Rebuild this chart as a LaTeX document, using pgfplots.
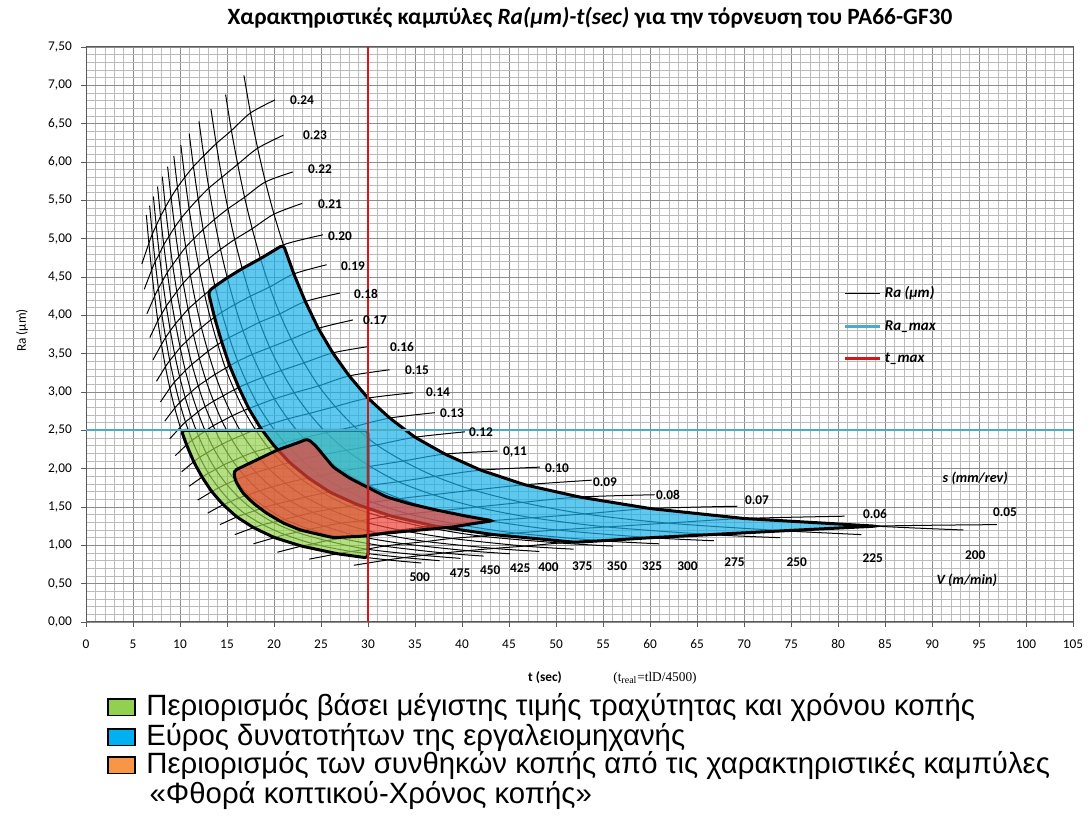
\documentclass[border=0pt]{standalone}
\usepackage{fontspec}
\setmainfont{Carlito}
\newfontfamily\arialf{Liberation Sans}
\newfontfamily\timesf{Liberation Serif}
\usepackage{pgfplots}
\pgfplotsset{compat=1.18}
\usepackage{pgfplotstable}

\definecolor{gridmajor}{HTML}{8C8C8C}
\definecolor{gridminor}{HTML}{BBBBBB}
\definecolor{ramax}{HTML}{4BACC6}
\definecolor{tmax}{HTML}{D01818}
\definecolor{fillgreen}{HTML}{94D14E}
\definecolor{fillblue}{HTML}{1BB0E8}
\definecolor{fillred}{HTML}{EE4236}
\definecolor{boxgreen}{HTML}{92D050}
\definecolor{boxblue}{HTML}{00B0F0}
\definecolor{boxorange}{HTML}{F79646}

% mesh points: 15 groups (ext, V=500..200, label leaders) x 22 rows (s=0.045, 0.05..0.24, 0.25)
\pgfplotstableread[row sep=\\]{
t r\\
31.67 0.70\\ 28.50 0.74\\ 23.75 0.82\\ 20.36 0.91\\ 17.81 1.02\\ 15.83 1.14\\ 14.25 1.27\\ 12.95 1.42\\ 11.88 1.59\\ 10.96 1.77\\ 10.18 1.96\\ 9.50 2.17\\ 8.91 2.39\\ 8.38 2.62\\ 7.92 2.87\\ 7.50 3.14\\ 7.13 3.42\\ 6.79 3.71\\ 6.48 4.02\\ 6.20 4.34\\ 5.94 4.67\\ 5.70 5.02\\
35.67 0.77\\ 32.10 0.81\\ 26.75 0.89\\ 22.93 0.99\\ 20.06 1.10\\ 17.83 1.23\\ 16.05 1.37\\ 14.59 1.53\\ 13.38 1.70\\ 12.35 1.89\\ 11.46 2.09\\ 10.70 2.31\\ 10.03 2.54\\ 9.44 2.79\\ 8.92 3.05\\ 8.45 3.33\\ 8.03 3.62\\ 7.64 3.93\\ 7.30 4.25\\ 6.98 4.59\\ 6.69 4.94\\ 6.42 5.31\\
37.62 0.80\\ 33.86 0.84\\ 28.22 0.92\\ 24.19 1.02\\ 21.16 1.14\\ 18.81 1.27\\ 16.93 1.41\\ 15.39 1.57\\ 14.11 1.75\\ 13.02 1.94\\ 12.09 2.15\\ 11.29 2.37\\ 10.58 2.61\\ 9.96 2.86\\ 9.41 3.13\\ 8.91 3.41\\ 8.47 3.71\\ 8.06 4.02\\ 7.70 4.35\\ 7.36 4.70\\ 7.05 5.06\\ 6.77 5.43\\
39.84 0.83\\ 35.86 0.87\\ 29.88 0.95\\ 25.61 1.06\\ 22.41 1.17\\ 19.92 1.30\\ 17.93 1.45\\ 16.30 1.62\\ 14.94 1.80\\ 13.79 1.99\\ 12.81 2.20\\ 11.95 2.43\\ 11.21 2.67\\ 10.55 2.93\\ 9.96 3.20\\ 9.44 3.49\\ 8.97 3.80\\ 8.54 4.12\\ 8.15 4.45\\ 7.80 4.80\\ 7.47 5.17\\ 7.17 5.55\\
42.29 0.86\\ 38.06 0.90\\ 31.72 0.99\\ 27.19 1.09\\ 23.79 1.21\\ 21.14 1.34\\ 19.03 1.50\\ 17.30 1.66\\ 15.86 1.85\\ 14.64 2.05\\ 13.59 2.26\\ 12.69 2.49\\ 11.89 2.74\\ 11.19 3.00\\ 10.57 3.28\\ 10.02 3.58\\ 9.52 3.89\\ 9.06 4.21\\ 8.65 4.56\\ 8.27 4.92\\ 7.93 5.29\\ 7.61 5.68\\
45.09 0.89\\ 40.58 0.93\\ 33.82 1.02\\ 28.99 1.12\\ 25.36 1.25\\ 22.54 1.38\\ 20.29 1.54\\ 18.45 1.71\\ 16.91 1.90\\ 15.61 2.10\\ 14.49 2.32\\ 13.53 2.56\\ 12.68 2.81\\ 11.94 3.08\\ 11.27 3.36\\ 10.68 3.66\\ 10.15 3.98\\ 9.66 4.31\\ 9.22 4.66\\ 8.82 5.03\\ 8.45 5.41\\ 8.12 5.81\\
48.24 0.92\\ 43.42 0.96\\ 36.18 1.05\\ 31.01 1.16\\ 27.14 1.29\\ 24.12 1.43\\ 21.71 1.58\\ 19.74 1.76\\ 18.09 1.95\\ 16.70 2.16\\ 15.51 2.38\\ 14.47 2.62\\ 13.57 2.88\\ 12.77 3.15\\ 12.06 3.44\\ 11.43 3.75\\ 10.86 4.08\\ 10.34 4.42\\ 9.87 4.77\\ 9.44 5.15\\ 9.05 5.54\\ 8.68 5.94\\
51.87 0.95\\ 46.68 0.99\\ 38.90 1.09\\ 33.34 1.20\\ 29.18 1.32\\ 25.93 1.47\\ 23.34 1.63\\ 21.22 1.81\\ 19.45 2.00\\ 17.95 2.22\\ 16.67 2.44\\ 15.56 2.69\\ 14.59 2.95\\ 13.73 3.23\\ 12.97 3.53\\ 12.28 3.84\\ 11.67 4.17\\ 11.11 4.52\\ 10.61 4.89\\ 10.15 5.27\\ 9.73 5.67\\ 9.34 6.08\\
56.07 0.99\\ 50.46 1.03\\ 42.05 1.12\\ 36.04 1.24\\ 31.54 1.37\\ 28.03 1.51\\ 25.23 1.68\\ 22.94 1.86\\ 21.03 2.06\\ 19.41 2.27\\ 18.02 2.51\\ 16.82 2.76\\ 15.77 3.03\\ 14.84 3.31\\ 14.02 3.62\\ 13.28 3.94\\ 12.62 4.27\\ 12.01 4.63\\ 11.47 5.00\\ 10.97 5.39\\ 10.51 5.80\\ 10.09 6.22\\
60.98 1.02\\ 54.88 1.06\\ 45.73 1.16\\ 39.20 1.28\\ 34.30 1.41\\ 30.49 1.56\\ 27.44 1.73\\ 24.95 1.91\\ 22.87 2.12\\ 21.11 2.34\\ 19.60 2.58\\ 18.29 2.83\\ 17.15 3.11\\ 16.14 3.40\\ 15.24 3.71\\ 14.44 4.04\\ 13.72 4.38\\ 13.07 4.74\\ 12.47 5.12\\ 11.93 5.52\\ 11.43 5.94\\ 10.98 6.37\\
66.80 1.06\\ 60.12 1.10\\ 50.10 1.20\\ 42.94 1.32\\ 37.58 1.45\\ 33.40 1.61\\ 30.06 1.78\\ 27.33 1.97\\ 25.05 2.18\\ 23.12 2.40\\ 21.47 2.65\\ 20.04 2.91\\ 18.79 3.19\\ 17.68 3.49\\ 16.70 3.80\\ 15.82 4.14\\ 15.03 4.49\\ 14.31 4.86\\ 13.66 5.25\\ 13.07 5.66\\ 12.53 6.08\\ 12.02 6.53\\
73.84 1.10\\ 66.46 1.14\\ 55.38 1.24\\ 47.47 1.36\\ 41.54 1.50\\ 36.92 1.66\\ 33.23 1.83\\ 30.21 2.03\\ 27.69 2.24\\ 25.56 2.47\\ 23.74 2.72\\ 22.15 2.99\\ 20.77 3.28\\ 19.55 3.58\\ 18.46 3.91\\ 17.49 4.25\\ 16.62 4.61\\ 15.82 4.99\\ 15.10 5.39\\ 14.45 5.80\\ 13.85 6.24\\ 13.29 6.69\\
82.49 1.14\\ 74.24 1.19\\ 61.87 1.29\\ 53.03 1.41\\ 46.40 1.56\\ 41.24 1.72\\ 37.12 1.90\\ 33.75 2.10\\ 30.93 2.31\\ 28.55 2.55\\ 26.51 2.81\\ 24.75 3.08\\ 23.20 3.38\\ 21.84 3.69\\ 20.62 4.02\\ 19.54 4.37\\ 18.56 4.74\\ 17.68 5.13\\ 16.87 5.54\\ 16.14 5.97\\ 15.47 6.41\\ 14.85 6.88\\
93.33 1.20\\ 84.00 1.25\\ 70.00 1.35\\ 60.00 1.48\\ 52.50 1.63\\ 46.67 1.79\\ 42.00 1.98\\ 38.18 2.19\\ 35.00 2.41\\ 32.31 2.66\\ 30.00 2.92\\ 28.00 3.21\\ 26.25 3.51\\ 24.71 3.83\\ 23.33 4.18\\ 22.11 4.54\\ 21.00 4.92\\ 20.00 5.32\\ 19.09 5.74\\ 18.26 6.18\\ 17.50 6.64\\ 16.80 7.13\\
96.90 1.27\\ 96.90 1.27\\ 80.70 1.38\\ 69.30 1.51\\ 60.50 1.66\\ 53.80 1.85\\ 48.30 2.02\\ 43.80 2.23\\ 40.30 2.48\\ 37.10 2.73\\ 34.80 2.99\\ 32.30 3.29\\ 29.90 3.59\\ 28.40 3.94\\ 27.00 4.29\\ 25.60 4.66\\ 25.20 5.05\\ 23.00 5.46\\ 22.00 5.87\\ 21.00 6.35\\ 20.10 6.81\\ 20.10 6.81\\
}\meshdata

\begin{document}
\begin{tikzpicture}
\useasboundingbox (-51.6pt,-115.8pt) rectangle (603pt,373.2pt);
\begin{axis}[
  at={(0pt,0pt)}, anchor=south west,
  scale only axis, width=592.2pt, height=345pt,
  xmin=0, xmax=105, ymin=0, ymax=7.5,
  xtick distance=5, ytick distance=0.5,
  minor x tick num=4, minor y tick num=4,
  grid=both,
  major grid style={gridmajor, line width=0.5pt},
  minor grid style={gridminor, line width=0.35pt},
  axis line style={black!65, line width=0.6pt},
  tick align=outside, tick pos=left,
  major tick length=3pt, minor tick length=0pt,
  tick style={black!65},
  /pgf/number format/assume math mode=true,
  tick label style={font=\fontsize{8}{9}\selectfont},
  x tick label style={yshift=-4pt},
  y tick label style={xshift=-2pt, /pgf/number format/.cd, fixed, fixed zerofill, precision=2, use comma},
  filter discard warning=false,
  legend style={at={(axis cs:80.6,4.42)}, anchor=north west, draw=none, fill=none,
    font=\bfseries\itshape\fontsize{9}{11}\selectfont, row sep=8pt, inner sep=0pt},
  legend cell align=left,
  legend image code/.code={\draw[#1] (0pt,0pt) -- (21pt,0pt);},
]
% V lines (one group of 22 rows per speed)
\pgfplotsinvokeforeach{1,...,13}{
  \addplot[black, line width=0.6pt, smooth, forget plot,
    restrict expr to domain={floor((\coordindex+0.5)/22)-#1}{-0.2:0.2}]
    table[x=t, y=r] {\meshdata};
}
% s lines (same row in every group); other rows are dropped without a jump
\pgfplotsinvokeforeach{1,...,20}{
  \addplot[black, line width=0.6pt, smooth, forget plot,
    x filter/.append code={%
      \let\savedx\pgfmathresult
      \count255=\coordindex\relax
      \divide\count255 by 22
      \multiply\count255 by -22
      \advance\count255 by \coordindex\relax
      \ifnum\count255=#1\relax
        \let\pgfmathresult\savedx
      \else
        \let\pgfmathresult\empty
      \fi}]
    table[x=t, y=r] {\meshdata};
}

% green: Ra <= 2.5 and t <= 30
\addplot[fill=fillgreen, fill opacity=0.7, draw=black, line width=1.8pt, rounded corners=2pt, forget plot]
  coordinates {(10.14,2.5) (30,2.5) (30,0.835) (26.75,0.89) (22.93,0.99) (20.06,1.10) (17.83,1.23)
  (16.05,1.37) (14.59,1.53) (13.38,1.70) (12.35,1.89) (11.46,2.09) (10.70,2.31)} --cycle;

% blue: machine tool range
\addplot[fill=fillblue, fill opacity=0.7, draw=black, line width=1.8pt, rounded corners=2pt, forget plot]
  coordinates {(13.0,4.31) (13.72,4.38) (15.03,4.49) (16.62,4.61) (18.56,4.74) (21.0,4.92)
  (22.11,4.54) (23.33,4.18) (24.71,3.83) (26.25,3.51) (28.0,3.21) (30.0,2.92) (32.31,2.66)
  (35.0,2.41) (38.18,2.19) (42.0,1.98) (46.67,1.79) (52.5,1.63) (60.0,1.48) (70.0,1.35) (84.0,1.25)
  (74.24,1.19) (66.46,1.14) (60.12,1.10) (54.88,1.06) (52.0,1.04)
  (43.33,1.14) (37.14,1.25) (32.5,1.38) (28.89,1.53) (26.0,1.69) (23.64,1.88) (21.67,2.08)
  (20.0,2.30) (18.57,2.53) (17.33,2.78) (16.25,3.06) (15.29,3.34) (14.44,3.65) (13.68,3.97)} --cycle;

% red: tool wear restriction
\addplot[fill=fillred, fill opacity=0.7, draw=black, line width=1.8pt, rounded corners=2pt, forget plot]
  coordinates {(15.7,1.97) (17.4,2.07) (20.3,2.24) (22.8,2.35) (23.6,2.39) (24.5,2.29) (26.3,2.02)
  (28.0,1.88) (29.9,1.76) (32.0,1.63) (34.5,1.54) (37.3,1.46) (40.5,1.38) (43.3,1.32) (41.0,1.28)
  (39.1,1.24) (35.5,1.20) (32.0,1.16) (29.5,1.12) (26.3,1.10) (24.5,1.15) (22.8,1.20) (21.0,1.29)
  (19.2,1.42) (17.8,1.55) (16.7,1.68) (15.9,1.84)} --cycle;

\addplot[ramax, line width=1.3pt, forget plot] coordinates {(0,2.5) (105,2.5)};
\addplot[tmax, line width=1.6pt, forget plot] coordinates {(30,0) (30,7.5)};

\addlegendimage{black, line width=0.6pt}
\addlegendentry{Ra (μm)}
\addlegendimage{ramax, line width=1.6pt}
\addlegendentry{Ra\_max}
\addlegendimage{tmax, line width=1.6pt}
\addlegendentry{t\_max}

% feed labels
\begin{scope}[every node/.style={font=\bfseries\fontsize{8}{9}\selectfont, inner sep=0pt}]
\node at (axis cs:22.98,6.81) {0.24};
\node at (axis cs:24.36,6.35) {0.23};
\node at (axis cs:24.89,5.90) {0.22};
\node at (axis cs:25.96,5.45) {0.21};
\node at (axis cs:27.02,5.03) {0.20};
\node at (axis cs:28.40,4.64) {0.19};
\node at (axis cs:29.79,4.28) {0.18};
\node at (axis cs:30.74,3.94) {0.17};
\node at (axis cs:33.62,3.59) {0.16};
\node at (axis cs:35.21,3.29) {0.15};
\node at (axis cs:37.45,3.00) {0.14};
\node at (axis cs:38.94,2.73) {0.13};
\node at (axis cs:42.02,2.47) {0.12};
\node at (axis cs:45.64,2.22) {0,11};
\node at (axis cs:50.11,2.01) {0.10};
\node at (axis cs:55.21,1.83) {0.09};
\node at (axis cs:61.91,1.66) {0.08};
\node at (axis cs:71.38,1.59) {0.07};
\node at (axis cs:83.94,1.41) {0.06};
\node at (axis cs:97.77,1.43) {0.05};
% speed labels
\node at (axis cs:35.5,0.59) {500};
\node at (axis cs:39.8,0.64) {475};
\node at (axis cs:43.0,0.68) {450};
\node at (axis cs:46.2,0.70) {425};
\node at (axis cs:49.2,0.72) {400};
\node at (axis cs:52.8,0.73) {375};
\node at (axis cs:56.5,0.73) {350};
\node at (axis cs:60.2,0.73) {325};
\node at (axis cs:64.0,0.73) {300};
\node at (axis cs:69.0,0.78) {275};
\node at (axis cs:75.6,0.78) {250};
\node at (axis cs:83.7,0.83) {225};
\node at (axis cs:94.6,0.87) {200};
\node[font=\bfseries\itshape\fontsize{8.5}{10}\selectfont] at (axis cs:94.6,1.88) {s (mm/rev)};
\node[font=\bfseries\itshape\fontsize{8.5}{10}\selectfont] at (axis cs:93.7,0.55) {V (m/min)};
\end{scope}
\end{axis}

% titles and labels
\node[font=\bfseries\fontsize{14}{16}\selectfont] at (302.4pt,362.4pt)
  {Χαρακτηριστικές καμπύλες \textit{Ra(μm)-t(sec)} για την τόρνευση του PA66-GF30};
\node[rotate=90, font=\fontsize{8}{9}\selectfont] at (-38.4pt,175pt) {Ra (μm)};
\node[font=\bfseries\fontsize{8}{9}\selectfont] at (275.4pt,-33.6pt) {t (sec)};
\node[font=\timesf\fontsize{8}{9}\selectfont] at (341.4pt,-33.6pt) {(t\textsubscript{real}=tlD/4500)};

% bottom legend
\draw[black, line width=1pt, fill=boxgreen] (13.2pt,-56pt) rectangle (29.4pt,-46pt);
\draw[black, line width=1pt, fill=boxblue] (13.2pt,-74pt) rectangle (29.4pt,-64pt);
\draw[black, line width=1pt, fill=boxorange] (13.2pt,-90.8pt) rectangle (29.4pt,-80.8pt);
\begin{scope}[every node/.style={font=\arialf\fontsize{17.6}{19}\selectfont, anchor=west, inner sep=0pt}]
\node at (36pt,-51pt) {Περιορισμός βάσει μέγιστης τιμής τραχύτητας και χρόνου κοπής};
\node at (36pt,-69pt) {Εύρος δυνατοτήτων της εργαλειομηχανής};
\node at (36pt,-85.8pt) {Περιορισμός των συνθηκών κοπής από τις χαρακτηριστικές καμπύλες};
\node at (38pt,-103.8pt) {«Φθορά κοπτικού-Χρόνος κοπής»};
\end{scope}
\end{tikzpicture}
\end{document}
